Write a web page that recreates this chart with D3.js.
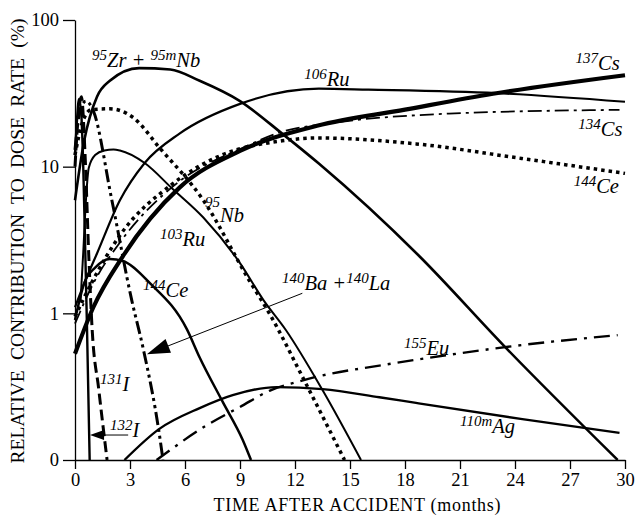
<!DOCTYPE html>
<html>
<head>
<meta charset="utf-8">
<script src="https://cdn.jsdelivr.net/npm/d3@7"></script>
<style>
  body { margin: 0; background: #fff; }
  svg { display: block; font-family: "Liberation Serif", "Times New Roman", serif; }
</style>
</head>
<body>
<div id="chart"></div>
<script>
// Values: months after the accident, contribution to dose rate (%)
var zrNbMonths = [0, 0.5, 1.2, 1.9, 3.5, 5.2, 6.8, 9.0, 11.3, 13.3, 18.8, 23.4, 29.6];
var zrNbValues = [5.9, 15, 30, 38.5, 47, 46, 38.5, 28, 16.8, 10.5, 2.44, 0.6, 0.1];

var ru106Months = [0, 0.5, 1.2, 2.45, 3.8, 5.7, 9.0, 13.3, 16, 23, 30];
var ru106Values = [1.1, 1.6, 2.56, 5.9, 10.6, 16.8, 26.8, 34, 33.5, 31.7, 27.7];

var cs137Months = [0, 1, 2.6, 5.7, 9, 13.2, 18, 22.8, 30];
var cs137Values = [0.53, 1.1, 2.44, 7.2, 12.8, 19, 24.5, 31.4, 42];

var cs134Months = [0, 1, 2.5, 5.5, 9, 11.5, 13.7, 20.4, 29.7];
var cs134Values = [0.85, 1.6, 3.1, 7.6, 13.2, 17.6, 19.6, 23, 24.4];

var ce144Months = [0, 1, 2.45, 5.3, 8, 11.3, 13.2, 18.6, 24.1, 30];
var ce144Values = [0.95, 1.7, 3.4, 7.6, 12, 15, 15.7, 14.3, 11.5, 9.0];

var ru103Months = [0.3, 0.45, 0.6, 0.75, 1.1, 1.6, 2.1, 2.45, 3.8, 5.3, 7, 9, 10.3, 11.5, 13.5, 15.6];
var ru103Values = [1.2, 2.6, 6, 9.8, 12, 12.9, 13.1, 12.9, 10.6, 7.1, 4.5, 2.2, 1.22, 0.77, 0.3, 0.1];

var nb95Months = [0, 0.4, 0.9, 1.9, 3.2, 4.6, 7, 9.5, 10.6, 12.5, 14.7];
var nb95Values = [12, 20, 24.5, 24.8, 21.5, 13.5, 5.9, 1.68, 1.0, 0.35, 0.1];

var baLaMonths = [0, 0.3, 0.6, 1.0, 2.0, 3.1, 3.7, 4.6, 4.8];
var baLaValues = [13, 25, 28, 24, 6.0, 1.22, 0.59, 0.15, 0.1];

var i131Months = [0, 0.15, 0.35, 0.55, 0.75, 0.93, 1.3, 1.75];
var i131Values = [10, 20, 30, 12, 2.5, 0.8, 0.3, 0.1];

var i132Months = [0, 0.1, 0.22, 0.35, 0.45, 0.55, 0.65, 0.8];
var i132Values = [12, 20, 29, 22, 10, 3, 0.85, 0.1];

var ce144eMonths = [0, 0.5, 1.1, 1.9, 2.6, 4.1, 6.1, 6.8, 8.05, 9.15, 9.6];
var ce144eValues = [0.9, 1.6, 2.05, 2.35, 2.28, 1.6, 0.78, 0.5, 0.25, 0.137, 0.1];

var ag110Months = [2.7, 4.6, 6.8, 8.6, 11, 13.5, 16.6, 18.6, 24.4, 29.7];
var ag110Values = [0.1, 0.163, 0.226, 0.277, 0.314, 0.304, 0.268, 0.245, 0.19, 0.153];

var eu155Months = [4.45, 7.2, 9, 10.7, 12.1, 13.2, 16.6, 20.8, 24, 29.6];
var eu155Values = [0.1, 0.173, 0.23, 0.3, 0.34, 0.37, 0.44, 0.53, 0.6, 0.71];

var xTicks = [0, 3, 6, 9, 12, 15, 18, 21, 24, 27, 30];
var yTicks = [0.1, 1, 10, 100];
var yTickLabels = ["0", "1", "10", "100"];

// Set the dimensions of the chart
var width = 637, height = 516;
var margin = {top: 20, right: 12, bottom: 56, left: 75};

var svg = d3.select("#chart")
  .append("svg")
  .attr("width", width)
  .attr("height", height);

svg.append("rect").attr("width", width).attr("height", height).attr("fill", "#fff");

var xScale = d3.scaleLinear()
  .domain([0, 30])
  .range([margin.left, width - margin.right]);

var yScale = d3.scaleLog()
  .domain([0.1, 100])
  .range([height - margin.bottom, margin.top]);

// Axes
var xAxis = svg.append("g")
  .attr("transform", "translate(0," + yScale(0.1) + ")")
  .call(d3.axisBottom(xScale).tickValues(xTicks).tickSize(9).tickSizeOuter(0).tickPadding(4));

var yAxis = svg.append("g")
  .attr("transform", "translate(" + xScale(0) + ",0)")
  .call(d3.axisLeft(yScale).tickValues(yTicks).tickSize(12).tickSizeOuter(0).tickPadding(4)
    .tickFormat(function(d, i) { return yTickLabels[i]; }));

[xAxis, yAxis].forEach(function(a) {
  a.selectAll("path, line").attr("stroke", "#000").attr("stroke-width", 1.3);
  a.selectAll("text")
    .attr("fill", "#000")
    .style("font-family", "'Liberation Serif', serif")
    .style("font-size", "18.5px");
});

svg.append("text")
  .attr("x", 357)
  .attr("y", 511)
  .attr("text-anchor", "middle")
  .attr("textLength", 287)
  .attr("lengthAdjust", "spacing")
  .style("font-size", "18px")
  .text("TIME AFTER ACCIDENT (months)");

// y title: wider gaps between words, like the original
var yTitle = svg.append("text")
  .attr("transform", "translate(24,241) rotate(-90)")
  .attr("text-anchor", "middle")
  .style("font-size", "19.5px")
  .text("RELATIVE CONTRIBUTION TO DOSE RATE (%)");
var yLen = yTitle.node().getComputedTextLength();
yTitle.style("word-spacing", Math.max(0, (445 - yLen) / 5) + "px");

// Curves
var series = [
  {months: ag110Months, values: ag110Values, w: 2.4, dash: null},
  {months: eu155Months, values: eu155Values, w: 2.4, dash: "16,7,3,7"},
  {months: ce144eMonths, values: ce144eValues, w: 2.5, dash: null},
  {months: i132Months, values: i132Values, w: 2.4, dash: null},
  {months: i131Months, values: i131Values, w: 3, dash: "11,5"},
  {months: baLaMonths, values: baLaValues, w: 3, dash: "13,4,3,4,3,4"},
  {months: ru103Months, values: ru103Values, w: 2, dash: null},
  {months: nb95Months, values: nb95Values, w: 3.5, dash: "3.5,4"},
  {months: ce144Months, values: ce144Values, w: 3.5, dash: "3.5,4"},
  {months: cs134Months, values: cs134Values, w: 1.8, dash: "14,5,3,5"},
  {months: ru106Months, values: ru106Values, w: 2.2, dash: null},
  {months: zrNbMonths, values: zrNbValues, w: 2.6, dash: null},
  {months: cs137Months, values: cs137Values, w: 4.2, dash: null}
];

var line = d3.line()
  .x(function(d) { return xScale(d[0]); })
  .y(function(d) { return yScale(d[1]); })
  .curve(d3.curveMonotoneX);

svg.selectAll(".curve")
  .data(series)
  .enter()
  .append("path")
  .attr("class", "curve")
  .attr("d", function(s) { return line(d3.zip(s.months, s.values)); })
  .attr("fill", "none")
  .attr("stroke", "#000")
  .attr("stroke-width", function(s) { return s.w; })
  .attr("stroke-dasharray", function(s) { return s.dash; })
  .attr("stroke-linejoin", "round");

// Labels: [month, value, parts]; parts are [text, isSuperscript]
var labels = [
  [0.93, 47.8, [["95", 1], ["Zr + ", 0], ["95m", 1], ["Nb", 0]]],
  [12.5, 35.5, [["106", 1], ["Ru", 0]]],
  [27.3, 45.6, [["137", 1], ["Cs", 0]]],
  [27.45, 16.2, [["134", 1], ["Cs", 0]]],
  [27.2, 6.6, [["144", 1], ["Ce", 0]]],
  [4.64, 2.88, [["103", 1], ["Ru", 0]]],
  [3.71, 1.29, [["144", 1], ["Ce", 0]]],
  [1.36, 0.295, [["131", 1], ["I", 0]]],
  [1.91, 0.1435, [["132", 1], ["I", 0]]],
  [17.95, 0.52, [["155", 1], ["Eu", 0]]],
  [21.0, 0.153, [["110m", 1], ["Ag", 0]]],
  [11.29, 1.44, [["140", 1], ["Ba +", 0], ["140", 1], ["La", 0]]]
];

labels.forEach(function(l) {
  var t = svg.append("text")
    .attr("x", xScale(l[0]))
    .attr("y", yScale(l[1]))
    .style("font-style", "italic");
  var up = false;
  l[2].forEach(function(p) {
    var sp = t.append("tspan").text(p[0]);
    if (p[1]) {
      sp.style("font-size", "15px").attr("dy", up ? 0 : -7);
      up = true;
    } else {
      sp.style("font-size", "20.5px").attr("dy", up ? 7 : 0);
      up = false;
    }
  });
});

// 95Nb label has its number stacked up and to the left
var nbX = xScale(7.09), nbY = yScale(4.2);
svg.append("text").attr("x", nbX).attr("y", nbY - 15)
  .style("font-style", "italic").style("font-size", "15px").text("95");
svg.append("text").attr("x", nbX + 15).attr("y", nbY)
  .style("font-style", "italic").style("font-size", "20.5px").text("Nb");

// Pointer arrows
function arrow(m0, v0, m1, v1, len, half) {
  var x0 = xScale(m0), y0 = yScale(v0), x1 = xScale(m1), y1 = yScale(v1);
  var a = Math.atan2(y1 - y0, x1 - x0);
  svg.append("line")
    .attr("x1", x0).attr("y1", y0)
    .attr("x2", x1 - Math.cos(a) * len * 0.8).attr("y2", y1 - Math.sin(a) * len * 0.8)
    .attr("stroke", "#000").attr("stroke-width", 1);
  var bx = x1 - Math.cos(a) * len, by = y1 - Math.sin(a) * len;
  var px = -Math.sin(a) * half, py = Math.cos(a) * half;
  svg.append("path")
    .attr("d", "M" + x1 + "," + y1 + "L" + (bx + px) + "," + (by + py) + "L" + (bx - px) + "," + (by - py) + "Z")
    .attr("fill", "#000");
}

arrow(12.4, 1.37, 3.92, 0.526, 23, 7.5);
arrow(2.9, 0.148, 0.82, 0.148, 14, 5);
</script>
</body>
</html>
